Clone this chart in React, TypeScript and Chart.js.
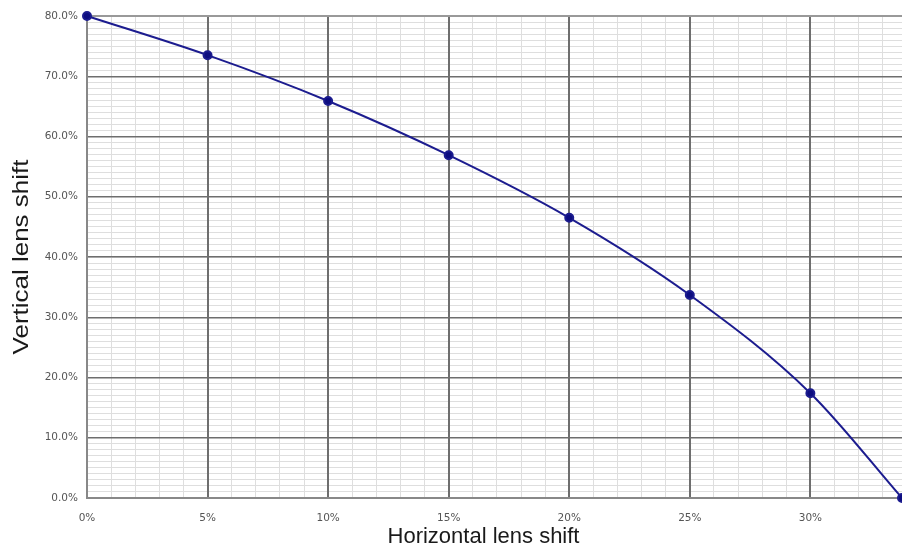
import React, { useEffect, useRef } from "react";
import { Chart, registerables } from "chart.js";

Chart.register(...registerables);

const horizontalShift = [0, 5, 10, 15, 20, 25, 30, 33.8];
const verticalShift = [80, 73.5, 65.9, 56.9, 46.5, 33.7, 17.4, 0];
const xTitle = "Horizontal lens shift";
const yTitle = "Vertical lens shift";
const X_MAX = 33.8;
const Y_MAX = 80;

const titlePlugin = {
  id: "axisTitles",
  afterDraw(chart: any) {
    const { ctx, chartArea } = chart;
    ctx.save();
    ctx.fillStyle = "#1a1a1a";
    ctx.font = "22px 'Liberation Sans'";
    ctx.textAlign = "center";
    ctx.textBaseline = "middle";
    ctx.fillText(xTitle, (chartArea.left + chartArea.right) / 2 - 11, 537);
    ctx.translate(22, (chartArea.top + chartArea.bottom) / 2);
    ctx.rotate(-Math.PI / 2);
    ctx.scale(1.18, 1);
    ctx.fillText(yTitle, 0, 0);
    ctx.restore();
  },
};

export default function App() {
  const ref = useRef<HTMLCanvasElement>(null);
  useEffect(() => {
    document.body.style.margin = "0";
    const canvas = ref.current!;
    const tickFont = { family: "DejaVu Sans", size: 10.5 };
    const minorScale = (axis: "x" | "y", pos: "bottom" | "left") => ({
      type: "linear" as const,
      axis,
      position: pos,
      min: 0,
      max: axis === "x" ? X_MAX : Y_MAX,
      z: -1,
      afterFit: (s: any) => {
        if (axis === "x") s.height = 0;
        else s.width = 0;
        s.paddingLeft = 0;
        s.paddingRight = 0;
        s.paddingTop = 0;
        s.paddingBottom = 0;
      },
      ticks: { display: false, stepSize: 1, includeBounds: false, autoSkip: false },
      grid: { color: "#dedede", lineWidth: 1, drawTicks: false },
      border: { display: false },
    });
    const chart = new Chart(canvas, {
      type: "line",
      data: {
        datasets: [
          {
            data: horizontalShift.map((x, i) => ({ x, y: verticalShift[i] })),
            borderColor: "#1c1c8f",
            backgroundColor: "#0d0d80",
            borderWidth: 2,
            pointRadius: 4,
            pointHoverRadius: 4,
            cubicInterpolationMode: "monotone",
            clip: 6,
          },
        ],
      },
      plugins: [titlePlugin],
      options: {
        animation: false,
        responsive: false,
        plugins: { legend: { display: false }, tooltip: { enabled: false } },
        layout: { autoPadding: false, padding: { top: 16, right: 0, left: 0, bottom: 0 } },
        scales: {
          x2: minorScale("x", "bottom"),
          y2: minorScale("y", "left"),
          x: {
            type: "linear",
            min: 0,
            max: X_MAX,
            afterFit: (s: any) => {
              s.height = 51;
              s.paddingRight = 0;
              s.paddingLeft = 0;
            },
            ticks: {
              stepSize: 5,
              autoSkip: false,
              maxRotation: 0,
              includeBounds: false,
              padding: 14,
              color: "#555",
              font: tickFont,
              callback: (v: any) => v + "%",
            },
            grid: { color: "#6e6e6e", lineWidth: 2, drawTicks: false },
            border: { display: true, color: "#888", width: 2 },
          },
          y: {
            type: "linear",
            min: 0,
            max: Y_MAX,
            afterFit: (s: any) => {
              s.width = 87;
            },
            ticks: {
              stepSize: 10,
              autoSkip: false,
              padding: 9,
              color: "#555",
              font: tickFont,
              callback: (v: any) => Number(v).toFixed(1) + "%",
            },
            grid: {
              color: (c: any) => (c.tick && c.tick.value === Y_MAX ? "#999" : "#6e6e6e"),
              lineWidth: (c: any) => (c.tick && c.tick.value === Y_MAX ? 2 : 1.5),
              drawTicks: false,
            },
            border: { display: true, color: "#888", width: 2 },
          },
        },
      },
    });
    return () => chart.destroy();
  }, []);
  return (
    <div style={{ width: 902, height: 549 }}>
      <canvas ref={ref} width={902} height={549} style={{ display: "block" }} />
    </div>
  );
}
